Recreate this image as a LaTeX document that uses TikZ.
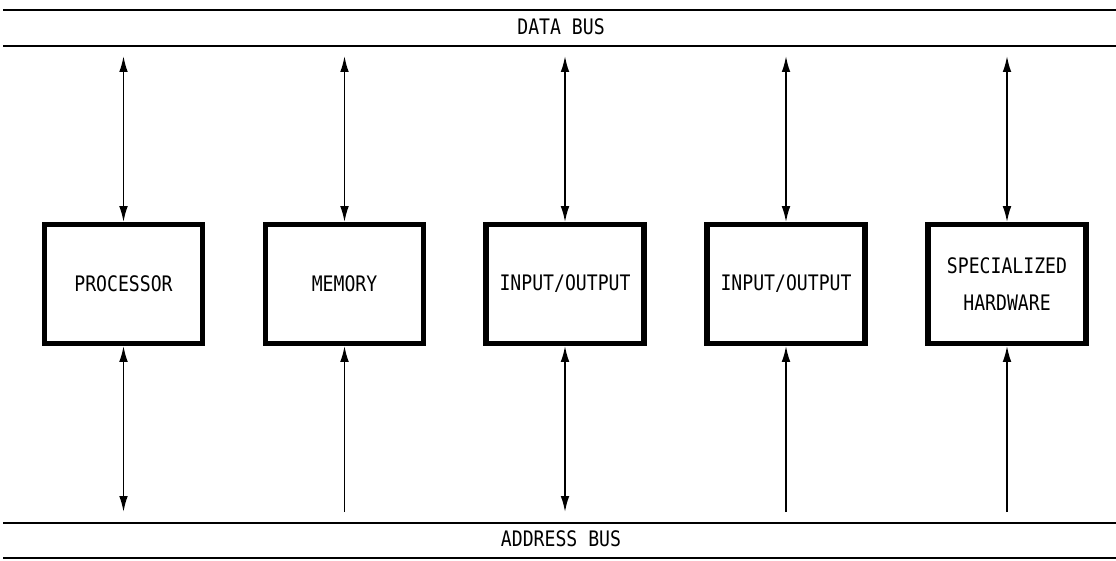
\documentclass[tikz,border=0pt]{standalone}
\usepackage{fontspec}
\newfontfamily\plotfont[FakeStretch=0.85]{DejaVu Sans Mono}
\usetikzlibrary{arrows.meta}
\begin{document}
\begin{tikzpicture}[x=0.75pt,y=-0.75pt,
  bus/.style={line width=1.9pt},
  unit/.style={draw, line width=3.8pt, minimum width=118.5pt, minimum height=89pt,
    inner sep=0pt, align=center, font=\plotfont\fontsize{16}{27.5}\selectfont},
  lbl/.style={font=\plotfont\fontsize{16}{18}\selectfont, inner sep=0pt},
  conn/.style={line width=1.3pt},
  bt/.tip={Latex[length=12pt,width=6.5pt]}]
\useasboundingbox (0,0) rectangle (1116,560);
% buses
\draw[bus] (3,10) -- (1116,10);
\draw[bus] (3,46) -- (1116,46);
\node[lbl] (dbus) at (561,27) {DATA BUS};
\draw[bus] (3,523) -- (1116,523);
\draw[bus] (3,558) -- (1116,558);
\node[lbl] (abus) at (561,539) {ADDRESS BUS};
\coordinate (dtop) at (0,56);
\coordinate (abot) at (0,512);
% units
\node[unit] (proc) at (123.5,284) {PROCESSOR};
\node[unit] (mem) at (344.5,284) {MEMORY};
\node[unit] (io1) at (565,284) {INPUT/OUTPUT};
\node[unit] (io2) at (786,284) {INPUT/OUTPUT};
\node[unit] (spec) at (1007,284) {SPECIALIZED\\HARDWARE};
% data bus connectors
\foreach \n in {proc,mem,io1,io2,spec}
  \draw[conn,bt-bt] (\n.north |- dtop) -- (\n.north);
% address bus connectors
\foreach \n in {proc,io1}
  \draw[conn,bt-bt] (\n.south) -- (\n.south |- abot);
\foreach \n in {mem,io2,spec}
  \draw[conn,-bt] (\n.south |- abot) -- (\n.south);
\end{tikzpicture}
\end{document}
